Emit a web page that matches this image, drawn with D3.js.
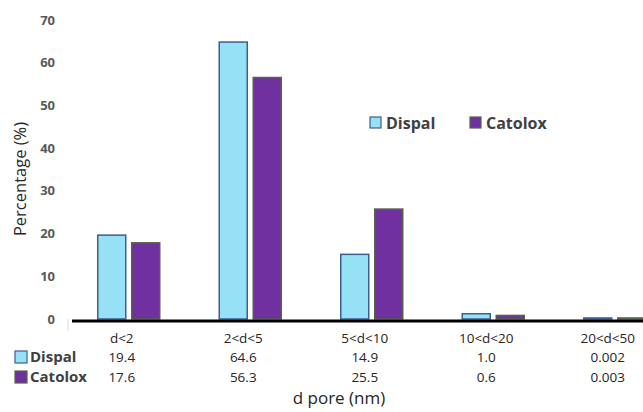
<!DOCTYPE html>
<html>
<head>
<meta charset="utf-8">
<script src="https://cdn.jsdelivr.net/npm/d3@7"></script>
<style>
body { margin: 0; background: #fff; }
text { font-family: "Open Sans", sans-serif; }
</style>
</head>
<body>
<script>
// data
const categories = ["d<2", "2<d<5", "5<d<10", "10<d<20", "20<d<50"];
const dispal = [19.4, 64.6, 14.9, 1.0, 0.002];
const catolox = [17.6, 56.3, 25.5, 0.6, 0.003];
const dispalLabels = ["19.4", "64.6", "14.9", "1.0", "0.002"];
const catoloxLabels = ["17.6", "56.3", "25.5", "0.6", "0.003"];
const yTicks = [0, 10, 20, 30, 40, 50, 60, 70];

const series = [
    { name: "Dispal", values: dispal, fill: "#97e1f7", stroke: "#3e5e8e" },
    { name: "Catolox", values: catolox, fill: "#7030a0", stroke: "#55624a" }
];

const svg = d3.select("body").append("svg")
    .attr("width", 643)
    .attr("height", 412);

const x = d3.scaleBand()
    .domain(categories)
    .range([68, 675.5])
    .padding(0);

const y = d3.scaleLinear()
    .domain([0, 70])
    .range([319, 20]);

const barW = 28;
const gap = 6;

// y tick labels
svg.append("g")
    .selectAll("text")
    .data(yTicks)
    .join("text")
    .attr("x", 55)
    .attr("y", d => y(d))
    .attr("dy", "0.35em")
    .attr("text-anchor", "end")
    .attr("font-size", 13)
    .attr("font-weight", "bold")
    .attr("fill", "#595959")
    .text(d => d);

// bars
series.forEach(function(s, i) {
    svg.append("g")
        .selectAll("rect")
        .data(categories)
        .join("rect")
        .attr("x", (d) => x(d) + x.bandwidth() / 2 + (i === 0 ? -gap / 2 - barW : gap / 2))
        .attr("y", (d, j) => y(s.values[j]) - 1)
        .attr("width", barW)
        .attr("height", (d, j) => y(0) - y(s.values[j]) + 1)
        .attr("fill", s.fill)
        .attr("stroke", s.stroke)
        .attr("stroke-width", 1.5);
});

// light stub at the left of the axis
svg.append("line")
    .attr("x1", 68).attr("x2", 68)
    .attr("y1", 319).attr("y2", 331)
    .attr("stroke", "#d9d9d9")
    .attr("stroke-width", 1);

// x axis line
svg.append("line")
    .attr("x1", 72).attr("x2", 643)
    .attr("y1", 321).attr("y2", 321)
    .attr("stroke", "#000")
    .attr("stroke-width", 3);

// data table under the axis
const rows = [
    { labels: categories, y: 338 },
    { labels: dispalLabels, y: 357 },
    { labels: catoloxLabels, y: 377 }
];
rows.forEach(function(r) {
    svg.append("g")
        .selectAll("text")
        .data(categories)
        .join("text")
        .attr("x", (d) => x(d) + x.bandwidth() / 2 - 7)
        .attr("y", r.y)
        .attr("dy", "0.35em")
        .attr("text-anchor", "middle")
        .attr("font-size", 13.5)
        .attr("fill", "#262626")
        .text((d, j) => r.labels[j]);
});

// row legend keys on the left
series.forEach(function(s, i) {
    let ky = 351 + i * 20;
    svg.append("rect")
        .attr("x", 15).attr("y", ky)
        .attr("width", 12).attr("height", 12)
        .attr("fill", s.fill)
        .attr("stroke", s.stroke)
        .attr("stroke-width", 1.2);
    svg.append("text")
        .attr("x", 30).attr("y", ky + 6)
        .attr("dy", "0.35em")
        .attr("font-size", 15)
        .attr("font-weight", "bold")
        .attr("fill", "#404040")
        .text(s.name);
});

// top legend
const legendX = [370, 470];
series.forEach(function(s, i) {
    svg.append("rect")
        .attr("x", legendX[i]).attr("y", 117)
        .attr("width", 11).attr("height", 11)
        .attr("fill", s.fill)
        .attr("stroke", s.stroke)
        .attr("stroke-width", 1.2);
    svg.append("text")
        .attr("x", legendX[i] + 16).attr("y", 123)
        .attr("dy", "0.35em")
        .attr("font-size", 16)
        .attr("font-weight", "bold")
        .attr("fill", "#404040")
        .text(s.name);
});

// axis titles
svg.append("text")
    .attr("transform", "translate(20,179) rotate(-90)")
    .attr("dy", "0.35em")
    .attr("text-anchor", "middle")
    .attr("font-size", 16.5)
    .attr("fill", "#262626")
    .text("Percentage (%)");

svg.append("text")
    .attr("x", 339).attr("y", 398)
    .attr("dy", "0.35em")
    .attr("text-anchor", "middle")
    .attr("font-size", 17)
    .attr("fill", "#262626")
    .text("d pore (nm)");
</script>
</body>
</html>
